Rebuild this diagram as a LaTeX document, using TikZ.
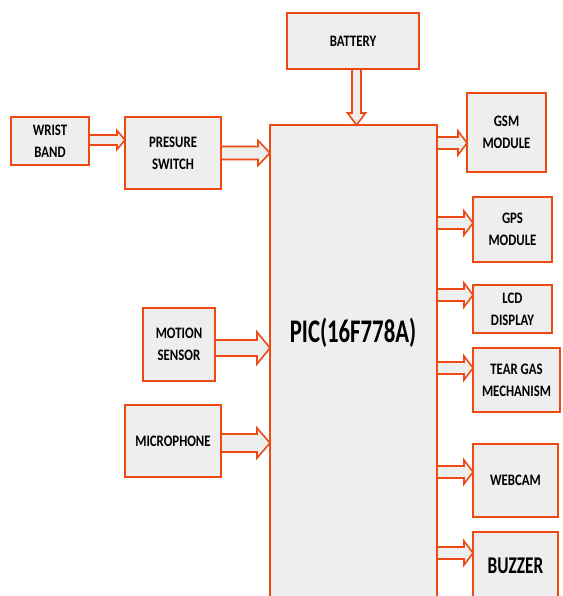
\documentclass[tikz,border=0pt]{standalone}
\usepackage{fontspec}
\setmainfont{Carlito}[FakeStretch=0.8]
\newfontfamily\bigfont{Carlito}[FakeStretch=0.69]
\newfontfamily\midfont{Carlito}[FakeStretch=0.72]
\usetikzlibrary{calc}
\definecolor{bord}{RGB}{236,74,18}
\definecolor{boxfill}{RGB}{238,238,238}
\tikzset{
  box/.style={draw=bord, line width=2pt, fill=boxfill, align=center,
    font=\bfseries\fontsize{16}{22}\selectfont, inner sep=0pt, outer sep=0pt, anchor=center},
  blk/.style={draw=bord, line width=1.6pt, fill=boxfill, line join=miter}
}
% from, to, y, half shaft, half head, head length
\newcommand\harrow[6]{\path let \p1=(#1.east), \p2=(#2.west) in [blk]
  (\x1,#3-#4) -- (\x2-#6,#3-#4) -- (\x2-#6,#3-#5) -- (\x2,#3) --
  (\x2-#6,#3+#5) -- (\x2-#6,#3+#4) -- (\x1,#3+#4) -- cycle;}
\newcommand\varrow[6]{\path let \p1=(#1.south), \p2=(#2.north) in [blk]
  (#3-#4,\y1) -- (#3-#4,\y2+#6) -- (#3-#5,\y2+#6) -- (#3,\y2) --
  (#3+#5,\y2+#6) -- (#3+#4,\y2+#6) -- (#3+#4,\y1) -- cycle;}
\begin{document}
\begin{tikzpicture}[x=1pt,y=-1pt]
\useasboundingbox (0,0) rectangle (562,596);
\clip (0,0) rectangle (562,596);
\fill[white] (0,0) rectangle (562,596);
% boxes
\node[box, minimum width=78, minimum height=48] (wrist) at (50,141) {WRIST\\BAND};
\node[box, minimum width=96, minimum height=72] (presure) at (173,153) {PRESURE\\SWITCH};
\node[box, minimum width=132, minimum height=56] (battery) at (353,41) {BATTERY};
\node[box, minimum width=167, minimum height=480] (pic) at (353.5,365) {};
\node[font=\bigfont\bfseries\fontsize{33}{36}\selectfont, inner sep=0pt] (pictext) at (353,333) {PIC(16F778A)};
\node[box, minimum width=79, minimum height=79] (gsm) at (506.5,132.5) {GSM\\MODULE};
\node[box, minimum width=79, minimum height=65] (gps) at (512.5,229.5) {GPS\\MODULE};
\node[box, minimum width=79, minimum height=48] (lcd) at (512.5,309) {LCD\\DISPLAY};
\node[box, minimum width=87, minimum height=64] (tear) at (516.5,380) {TEAR GAS\\MECHANISM};
\node[box, minimum width=85, minimum height=73] (webcam) at (515.5,480.5) {WEBCAM};
\node[box, minimum width=85, minimum height=68, font=\midfont\bfseries\fontsize{24}{28}\selectfont] (buzzer) at (515.5,566) {BUZZER};
\node[box, minimum width=72, minimum height=73] (motion) at (179,344.5) {MOTION\\SENSOR};
\node[box, minimum width=96, minimum height=72] (mic) at (173,441) {MICROPHONE};
% arrows
\harrow{wrist}{presure}{140}{5}{9.5}{8}
\harrow{presure}{pic}{153}{6.5}{12.5}{12}
\harrow{motion}{pic}{348}{8}{16}{13}
\harrow{mic}{pic}{443}{9}{15}{13}
\varrow{battery}{pic}{356.5}{4.5}{9}{12}
\harrow{pic}{gsm}{143}{6}{12}{9}
\harrow{pic}{gps}{223}{6}{12}{9}
\harrow{pic}{lcd}{295}{6}{12}{9}
\harrow{pic}{tear}{368}{6}{12}{9}
\harrow{pic}{webcam}{472}{6}{12}{9}
\harrow{pic}{buzzer}{553}{6}{12}{9}
\end{tikzpicture}
\end{document}
